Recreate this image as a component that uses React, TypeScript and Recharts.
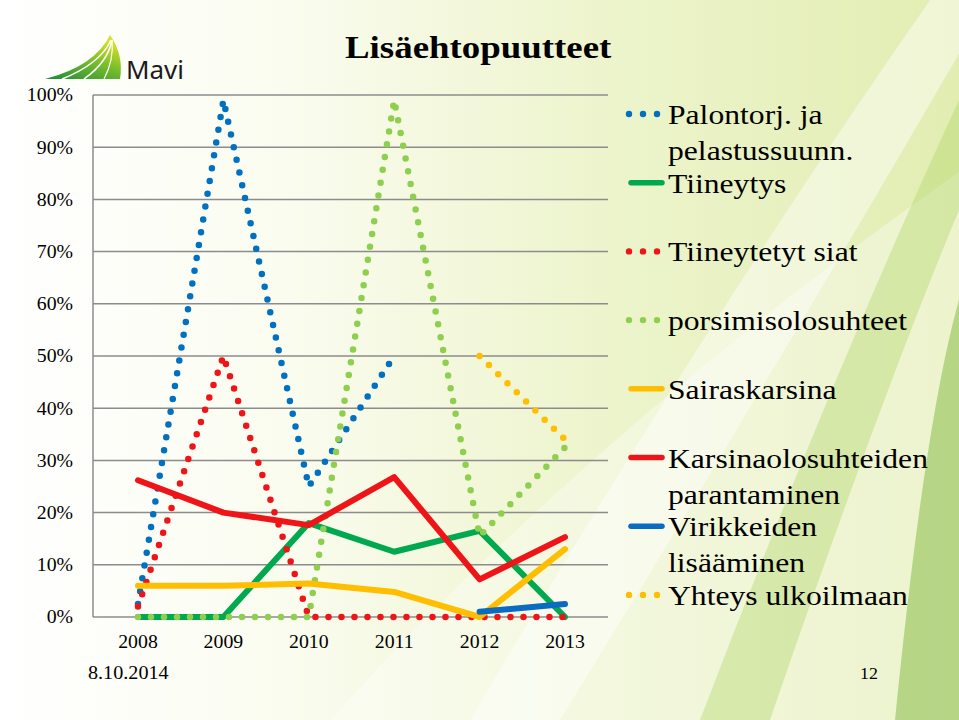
import { LineChart, Line, XAxis, YAxis, CartesianGrid } from "recharts"

// categories and values (0..1)
const years = ["2008", "2009", "2010", "2011", "2012", "2013"]
const palontorj = [0.025, 0.99, 0.25, 0.5, null, null]
const tiineytys = [0, 0, 0.18, 0.125, 0.165, 0]
const tiineytetytSiat = [0.02, 0.5, 0, 0, 0, 0]
const porsimis = [0, 0, 0, 0.99, 0.155, 0.325]
const sairaskarsina = [0.06, 0.06, 0.064, 0.048, 0, 0.13]
const karsina = [0.262, 0.2, 0.176, 0.268, 0.072, 0.153]
const virikkeet = [null, null, null, null, 0.01, 0.025]
const yhteys = [null, null, null, null, 0.5, 0.34]
const yTicks = [0, 0.1, 0.2, 0.3, 0.4, 0.5, 0.6, 0.7, 0.8, 0.9, 1]

const series = [
    { key: "palontorj", label: "Palontorj. ja\npelastussuunn.", values: palontorj, color: "#0070C0", dotted: true },
    { key: "tiineytys", label: "Tiineytys", values: tiineytys, color: "#00A84F", dotted: false },
    { key: "tiineytetyt", label: "Tiineytetyt siat", values: tiineytetytSiat, color: "#EE1418", dotted: true },
    { key: "porsimis", label: "porsimisolosuhteet", values: porsimis, color: "#8FCF50", dotted: true },
    { key: "sairaskarsina", label: "Sairaskarsina", values: sairaskarsina, color: "#FFBE00", dotted: false },
    { key: "karsina", label: "Karsinaolosuhteiden\nparantaminen", values: karsina, color: "#EE1418", dotted: false },
    { key: "virikkeet", label: "Virikkeiden\nlisääminen", values: virikkeet, color: "#0A6CC0", dotted: false },
    { key: "yhteys", label: "Yhteys ulkoilmaan", values: yhteys, color: "#FFBE00", dotted: true },
]

const rows = years.map((year, i) => {
    const row: Record<string, any> = { year }
    series.forEach((s) => (row[s.key] = s.values[i]))
    return row
})

const serif = "'Liberation Serif', 'Times New Roman', serif"
const pct = (v: number) => `${Math.round(v * 100)}%`

const YTick = ({ x, y, payload }: any) => (
    <text transform={`translate(${x},${y}) scale(1.1,1)`} textAnchor="end" dy="0.35em"
        fontFamily={serif} fontSize={18} fill="#000">
        {pct(payload.value)}
    </text>
)

const XTick = ({ x, y, payload }: any) => (
    <text transform={`translate(${x},${y}) scale(1.1,1)`} textAnchor="middle" dy="0.71em"
        fontFamily={serif} fontSize={18} fill="#000">
        {payload.value}
    </text>
)

function Background() {
    return (
        <svg width={959} height={720} style={{ position: "absolute", left: 0, top: 0 }}>
            <defs>
                <linearGradient id="bg" x1="0" y1="0" x2="1" y2="0">
                    <stop offset="0" stopColor="#ffffff" />
                    <stop offset="0.3" stopColor="#fafcef" />
                    <stop offset="0.6" stopColor="#eef5cf" />
                    <stop offset="1" stopColor="#e2edb2" />
                </linearGradient>
            </defs>
            <rect width={959} height={720} fill="url(#bg)" />
            <path d="M330,720 Q600,420 990,150 L990,720 Z" fill="#ffffff" opacity={0.35} />
            <path d="M470,720 Q700,330 930,0 L990,0 Q800,330 560,720 Z" fill="#ffffff" opacity={0.45} />
            <path d="M700,720 Q830,380 959,100 L959,210 Q880,400 770,720 Z" fill="#a8d05a" opacity={0.35} />
            <path d="M895,720 Q925,420 959,300 L959,720 Z" fill="#7fb83e" opacity={0.5} />
        </svg>
    )
}

function Overlay() {
    const rowGap = 68.7
    return (
        <svg width={959} height={720} style={{ position: "absolute", left: 0, top: 0, pointerEvents: "none" }}>
            <defs>
                <linearGradient id="leaf" x1="0" y1="1" x2="0.6" y2="0">
                    <stop offset="0" stopColor="#1f8a3a" />
                    <stop offset="0.6" stopColor="#7cbf2a" />
                    <stop offset="1" stopColor="#d6e22a" />
                </linearGradient>
            </defs>
            {/* logo */}
            <path d="M45,79 Q95,66 110,35 Q124,55 120,79 Z" fill="url(#leaf)" />
            <path d="M62,79 Q100,64 111,40" stroke="#fff" strokeWidth={1.5} fill="none" />
            <path d="M84,79 Q108,62 112,40" stroke="#fff" strokeWidth={1.5} fill="none" />
            <path d="M104,79 Q114,60 112,40" stroke="#fff" strokeWidth={1.2} fill="none" />
            <text x={126} y={79} fontFamily="'Noto Sans', Arial, sans-serif" fontSize={25}
                fill="#1b1b1b" textLength={58} lengthAdjust="spacingAndGlyphs">Mavi</text>

            <text transform="translate(345,58) scale(1.19,1)" fontFamily={serif} fontSize={31}
                fontWeight="bold" fill="#000">Lisäehtopuutteet</text>

            {series.map((s, i) => {
                const my = 114 + i * rowGap
                return (
                    <g key={s.key}>
                        {s.dotted ? (
                            [629, 643, 657].map((cx) => <circle key={cx} cx={cx} cy={my} r={3.2} fill={s.color} />)
                        ) : (
                            <line x1={631} x2={662} y1={my} y2={my} stroke={s.color} strokeWidth={5.5} strokeLinecap="round" />
                        )}
                        {s.label.split("\n").map((line, j) => (
                            <text key={j} transform={`translate(668,${my + 10 + j * 36}) scale(1.13,1)`}
                                fontFamily={serif} fontSize={28} fill="#000">{line}</text>
                        ))}
                    </g>
                )
            })}

            <text transform="translate(88,679) scale(1.12,1)" fontFamily={serif} fontSize={18} fill="#000">8.10.2014</text>
            <text transform="translate(860,679) scale(1.12,1)" fontFamily={serif} fontSize={16} fill="#000">12</text>
        </svg>
    )
}

export default function App() {
    return (
        <div style={{ position: "absolute", left: 0, top: 0, width: 959, height: 720, overflow: "hidden" }}>
            <Background />
            <div style={{ position: "absolute", left: 0, top: 0 }}>
                <LineChart width={959} height={720} data={rows}
                    margin={{ top: 95, right: 351, bottom: 73, left: 33 }}>
                    <CartesianGrid vertical={false} stroke="#8c8c8c" strokeWidth={1.5} />
                    <XAxis dataKey="year" height={30} axisLine={false} tickLine={false}
                        tickSize={0} tickMargin={18} padding={{ left: 45, right: 43 }} tick={<XTick />} />
                    <YAxis width={60} domain={[0, 1]} ticks={yTicks} interval={0}
                        axisLine={{ stroke: "#8c8c8c", strokeWidth: 1.5 }} tickLine={false}
                        tickSize={0} tickMargin={20} tick={<YTick />} />
                    {series.map((s) => (
                        <Line key={s.key} type="linear" dataKey={s.key} stroke={s.color}
                            strokeWidth={s.dotted ? 6.5 : 6} strokeDasharray={s.dotted ? "0 13" : undefined}
                            strokeLinecap="round" strokeLinejoin="round" dot={false}
                            activeDot={false} isAnimationActive={false} />
                    ))}
                </LineChart>
            </div>
            <Overlay />
        </div>
    )
}
